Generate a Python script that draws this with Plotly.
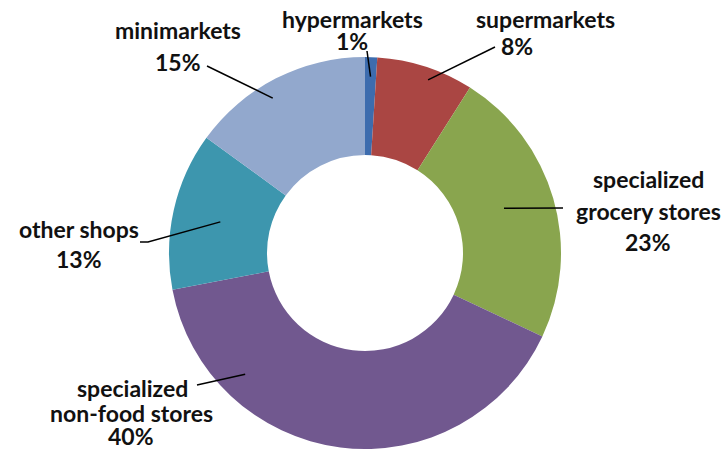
import math
import plotly.graph_objects as go

# Retail structure by store type (share, %)
categories = ["hypermarkets", "supermarkets", "specialized grocery stores",
              "specialized non-food stores", "other shops", "minimarkets"]
shares = [1, 8, 23, 40, 13, 15]
colors = ["#3D6CAE", "#AA4643", "#89A54E", "#71588F", "#3D96AE", "#92A8CD"]

# Label lines as drawn next to the ring
label_lines = [
    ["hypermarkets", "1%"],
    ["supermarkets", "8%"],
    ["specialized", "grocery stores", "23%"],
    ["specialized", "non-food stores", "40%"],
    ["other shops", "13%"],
    ["minimarkets", "15%"],
]

W, H = 725, 450
CX, CY, R = 365, 253, 196   # ring centre and outer radius in pixels

# Label placement (pixel centres of each text line)
label_pos = [
    [(352, 19), (352, 41)],
    [(545, 19), (517, 46)],
    [(648, 179), (648, 211), (648, 242)],
    [(132, 388), (131, 413), (131, 436)],
    [(79, 229), (79, 259)],
    [(178, 30), (178, 62)],
]
# Leader line anchor inside each slice: fraction of the slice's sweep and of the radius
anchor_frac = [0.5, 0.57, 0.48, 0.76, 0.49, 0.43]
anchor_rad = [0.9, 0.94, 0.745, 0.87, 0.755, 0.92]
# Leader line outer ends (pixels), possibly with an elbow
leader_ends = [
    [(367, 51)],
    [(495, 47)],
    [(563, 208)],
    [(197, 385)],
    [(148, 242), (140, 242)],
    [(207, 66)],
]


def px(x, y):
    return x / W, 1 - y / H


fig = go.Figure(go.Pie(
    labels=categories,
    values=shares,
    sort=False,
    direction="clockwise",
    rotation=0,
    hole=0.5,
    marker=dict(colors=colors, line=dict(width=0)),
    textinfo="none",
    domain=dict(x=[(CX - R) / W, (CX + R) / W],
                y=[(H - CY - R) / H, (H - CY + R) / H]),
    showlegend=False,
))

total = sum(shares)
shapes = []
annotations = []
cum = 0
for i, v in enumerate(shares):
    a0 = cum / total * 360
    a1 = (cum + v) / total * 360
    cum += v
    theta = math.radians(a0 + anchor_frac[i] * (a1 - a0))
    r = anchor_rad[i] * R
    ax = CX + r * math.sin(theta)
    ay = CY - r * math.cos(theta)
    pts = [(ax, ay)] + leader_ends[i]
    path = "M " + " L ".join(f"{px(x, y)[0]:.5f},{px(x, y)[1]:.5f}" for x, y in pts)
    shapes.append(dict(type="path", path=path, xref="paper", yref="paper",
                       line=dict(color="black", width=1.5)))
    for text, (tx, ty) in zip(label_lines[i], label_pos[i]):
        x, y = px(tx, ty)
        annotations.append(dict(
            text=f"<b>{text}</b>", x=x, y=y, xref="paper", yref="paper",
            xanchor="center", yanchor="middle", showarrow=False,
            borderpad=0,
            font=dict(family="Lato", size=23, color="#111111"),
        ))

fig.update_layout(
    width=W, height=H,
    margin=dict(l=0, r=0, t=0, b=0),
    paper_bgcolor="white",
    plot_bgcolor="white",
    shapes=shapes,
    annotations=annotations,
)

fig.write_html("out.html")
